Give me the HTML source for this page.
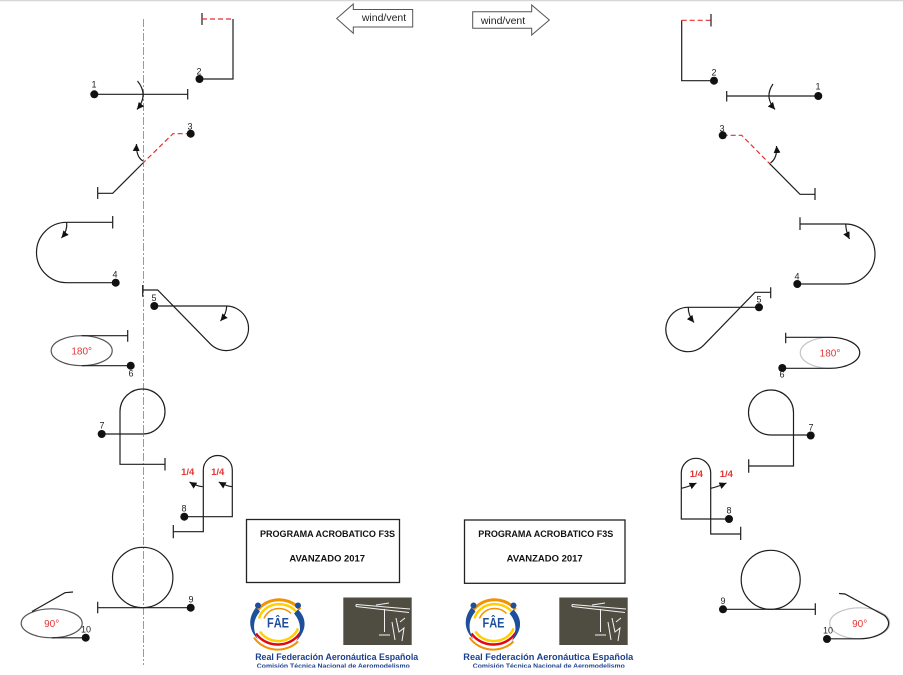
<!DOCTYPE html>
<html><head><meta charset="utf-8"><style>
html,body{margin:0;padding:0;background:#fff;}
svg{display:block;}
text{font-family:"Liberation Sans",Arial,sans-serif;}
</style></head><body>
<svg width="903" height="675" viewBox="0 0 903 675" xmlns="http://www.w3.org/2000/svg">
<defs>
<marker id="ah" viewBox="0 0 10 10" refX="10" refY="5" markerWidth="7" markerHeight="7" orient="auto" markerUnits="userSpaceOnUse"><path d="M0,0 L10,5 L0,10 z" fill="#111"/></marker>
</defs>
<rect x="0" y="0" width="903" height="675" fill="#fff"/>
<line x1="0" y1="0.5" x2="903" y2="0.5" stroke="#d6d6d6" stroke-width="1.5"/>

<!-- center dash-dot line -->
<line x1="143.5" y1="19" x2="143.5" y2="665" stroke="#9a9a9a" stroke-width="1" stroke-dasharray="8 2 2 2"/>

<!-- wind arrows -->
<polygon points="336.7,18.5 353.3,4 353.3,9.5 412.7,9.5 412.7,27 353.3,27 353.3,33.3" fill="#fff" stroke="#555" stroke-width="1"/>
<text x="384" y="21" font-size="10.5" text-anchor="middle" fill="#222">wind/vent</text>
<polygon points="472.7,11.7 531.7,11.7 531.7,5 549.3,20 531.7,35 531.7,28.3 472.7,28.3" fill="#fff" stroke="#555" stroke-width="1"/>
<text x="503" y="24" font-size="10.5" text-anchor="middle" fill="#222">wind/vent</text>

<g fill="none" stroke="#1e1e1e" stroke-width="1.2">
<!-- LEFT SIDE -->
<!-- fig 1 -->
<path d="M94.3,94.3 H187.7 M187.7,89 V99.5"/>
<path d="M137.5,81 Q149,95 137,109.5" marker-end="url(#ah)"/>
<!-- fig 2 -->
<path d="M233,19 V79 H199.5 M202,13 V25"/>
<path d="M202,19 H233" stroke="#e03030" stroke-dasharray="5 3"/>
<!-- fig 3 -->
<path d="M190.7,133.7 H173 L143,163" stroke="#e03030" stroke-dasharray="5 3"/>
<path d="M143,163 L112.7,193.3 H97.7 M97.7,187 V199"/>
<path d="M143,161 Q136,157 136.5,144" marker-end="url(#ah)"/>
<!-- fig 4 -->
<path d="M112.7,216 V228.5 M112.7,222.3 H66.7 A30.2,30.2 0 0 0 66.7,282.7 H115.7"/>
<path d="M66.7,222.5 Q67.5,231 61.5,238" marker-end="url(#ah)"/>
<!-- fig 5 -->
<path d="M142.7,285 V296.7 M142.7,290 H157.7 L210.2,343.8 A22.3,22.3 0 1 0 226,306 H154.3"/>
<path d="M226.7,306 Q226.5,314 220.5,321" marker-end="url(#ah)"/>
<!-- fig 6 -->
<ellipse cx="81.7" cy="350.7" rx="30.5" ry="15" stroke="#555"/>
<path d="M127.7,330 V341.7 M127.7,335.7 H81.7 M81.7,365.7 H130.7"/>
<!-- fig 7 -->
<path d="M101.7,434 H142.5 A22.5,22.5 0 0 0 165,411.5 A22.5,22.5 0 0 0 120,411.5 V464.3 H165 M165,458 V470.5"/>
<!-- fig 8 -->
<path d="M184.3,516.7 H232.3 V470 A14.5,14.5 0 0 0 203.3,470 V531.7 H173.3 M173.3,525 V538.3"/>
<path d="M202.7,486.7 Q196,486 189.5,482" marker-end="url(#ah)"/>
<path d="M232.3,486.7 Q226,486 218.8,482" marker-end="url(#ah)"/>
<!-- fig 9 -->
<circle cx="142.7" cy="577.5" r="30.2"/>
<path d="M97.7,607.7 H190.7 M97.7,601.7 V613.3"/>
<!-- fig 10 -->
<ellipse cx="51.7" cy="623.3" rx="30.5" ry="14.5" stroke="#555"/>
<path d="M73,592 L65,592.7 L32,611.5 M51.7,637.8 H85.7"/>

<!-- RIGHT SIDE -->
<!-- fig 1 -->
<path d="M726.7,96 H818.3 M726.7,91 V101.5"/>
<path d="M773,84 Q764,97 775,109.5" marker-end="url(#ah)"/>
<!-- fig 2 -->
<path d="M681.7,20.3 V80.7 H714 M711,14 V26.5"/>
<path d="M681.7,20.3 H711" stroke="#e03030" stroke-dasharray="5 3"/>
<!-- fig 3 -->
<path d="M722.7,135.3 H741.7 L769.3,163.3" stroke="#e03030" stroke-dasharray="5 3"/>
<path d="M769.3,163.3 L800,194.3 H815 M815,188 V200"/>
<path d="M770.5,163 Q777.5,158 776.5,146" marker-end="url(#ah)"/>
<!-- fig 4 -->
<path d="M800,217.3 V230 M800,224 H845 A30,30 0 0 1 845,284 H797.3"/>
<path d="M845.7,224 Q846,232 849.5,239" marker-end="url(#ah)"/>
<!-- fig 5 -->
<path d="M770.7,287.3 V298.3 M770.7,292.3 H755 L703.7,345.2 A22.2,22.2 0 1 1 688,307.3 H759"/>
<path d="M688.3,307.3 Q688,315 694,322.5" marker-end="url(#ah)"/>
<!-- fig 6 -->
<ellipse cx="830" cy="352.8" rx="29.7" ry="15.5" stroke="#c4c4c4"/>
<path d="M785.7,332.7 V343.3 M785.7,337.3 H830 A29.7,15.5 0 0 1 830,368.3 H782.3"/>
<!-- fig 7 -->
<path d="M810.7,435 H771 A22.5,22.5 0 0 1 748.5,412.5 A22.5,22.5 0 0 1 793.5,412.5 V466 H748.7 M748.7,459.3 V472.7"/>
<!-- fig 8 -->
<path d="M729,519 H681.3 V473 A14.7,14.7 0 0 1 710.7,473 V534 H740.7 M740.7,526.7 V540"/>
<path d="M681.3,488.3 Q688,487 696.5,483" marker-end="url(#ah)"/>
<path d="M710.7,488.3 Q717,487 726.5,483" marker-end="url(#ah)"/>
<!-- fig 9 -->
<circle cx="770.7" cy="579.8" r="29.5"/>
<path d="M723,609.3 H815.3 M815.3,603.3 V615"/>
<!-- fig 10 -->
<ellipse cx="859.7" cy="623.3" rx="30" ry="15.5" stroke="#c4c4c4"/>
<path d="M839,593.5 L845,594 L884.5,615.5 A30,15.5 0 0 1 859.7,638.8 H827"/>
</g>

<!-- dots -->
<g fill="#111">
<circle cx="94.3" cy="94.3" r="4"/>
<circle cx="199.5" cy="79" r="4"/>
<circle cx="190.7" cy="133.7" r="4"/>
<circle cx="115.7" cy="282.7" r="4"/>
<circle cx="154.3" cy="306" r="4"/>
<circle cx="130.7" cy="365.7" r="4"/>
<circle cx="101.7" cy="434" r="4"/>
<circle cx="184.3" cy="516.7" r="4"/>
<circle cx="190.7" cy="607.7" r="4"/>
<circle cx="85.7" cy="637.7" r="4"/>
<circle cx="818.3" cy="96" r="4"/>
<circle cx="714" cy="80.7" r="4"/>
<circle cx="722.7" cy="135.3" r="4"/>
<circle cx="797.3" cy="284" r="4"/>
<circle cx="759" cy="307.3" r="4"/>
<circle cx="782.3" cy="368" r="4"/>
<circle cx="810.7" cy="435.5" r="4"/>
<circle cx="729" cy="519" r="4"/>
<circle cx="723" cy="609.3" r="4"/>
<circle cx="827" cy="639" r="4"/>
</g>

<!-- number labels -->
<g font-size="9" fill="#222" text-anchor="middle">
<text x="94" y="87.5">1</text>
<text x="199" y="74.5">2</text>
<text x="190" y="129.5">3</text>
<text x="115" y="277.5">4</text>
<text x="154" y="301">5</text>
<text x="131" y="376.5">6</text>
<text x="102" y="428.5">7</text>
<text x="184" y="511.5">8</text>
<text x="191" y="602.5">9</text>
<text x="86" y="632.5">10</text>
<text x="818" y="89.5">1</text>
<text x="714" y="75.5">2</text>
<text x="722" y="131.5">3</text>
<text x="797" y="279.5">4</text>
<text x="759" y="302.5">5</text>
<text x="782" y="377.5">6</text>
<text x="811" y="430.5">7</text>
<text x="729" y="513.5">8</text>
<text x="723" y="604">9</text>
<text x="828" y="633.5">10</text>
</g>

<!-- red texts -->
<g fill="#e53535" text-anchor="middle">
<text x="81.7" y="354.5" font-size="10">180°</text>
<text x="830" y="356.5" font-size="10">180°</text>
<text x="51.7" y="627" font-size="10">90°</text>
<text x="859.7" y="627" font-size="10">90°</text>
<g font-weight="bold" font-size="9.5">
<text x="187.7" y="475">1/4</text>
<text x="217.7" y="475">1/4</text>
<text x="696.3" y="477">1/4</text>
<text x="726.3" y="477">1/4</text>
</g>
</g>

<!-- title boxes -->
<rect x="246.5" y="519.5" width="153" height="63" fill="#fff" stroke="#222" stroke-width="1.3"/>
<rect x="464.5" y="520" width="160.5" height="63.3" fill="#fff" stroke="#222" stroke-width="1.3"/>
<g font-weight="bold" font-size="9" fill="#111" text-anchor="middle">
<text x="327.5" y="536.8" textLength="135" lengthAdjust="spacingAndGlyphs">PROGRAMA ACROBATICO F3S</text>
<text x="327.2" y="561.5" textLength="75.7" lengthAdjust="spacingAndGlyphs">AVANZADO 2017</text>
<text x="545.8" y="537" textLength="135" lengthAdjust="spacingAndGlyphs">PROGRAMA ACROBATICO F3S</text>
<text x="544.7" y="561.5" textLength="76" lengthAdjust="spacingAndGlyphs">AVANZADO 2017</text>
</g>

<!-- FAE logos -->
<g id="fae" transform="translate(278,621.5)">
<path d="M-24,-4 A26,24 0 0 1 22,-12" fill="none" stroke="#f39200" stroke-width="3"/>
<path d="M-19,-3 A21,19 0 0 1 18,-10" fill="none" stroke="#ffd000" stroke-width="2.5"/>
<path d="M-14,-3 A16,15 0 0 1 13,-8" fill="none" stroke="#f39200" stroke-width="1.5"/>
<path d="M-22,12 A26,24 0 0 0 24,8" fill="none" stroke="#e30613" stroke-width="2.5"/>
<path d="M-18,10 A21,19 0 0 0 20,7" fill="none" stroke="#ffd000" stroke-width="2.5"/>
<path d="M-24,16 A28,26 0 0 0 20,20" fill="none" stroke="#f39200" stroke-width="2"/>
<path d="M-22,-14 C-30,-4 -30,8 -20,18 C-26,8 -25,-2 -18,-10 Z" fill="#1d4f9c"/>
<circle cx="-20" cy="-16" r="3" fill="#1d4f9c"/>
<path d="M20,-12 C30,-2 28,10 18,20 C24,10 23,0 16,-8 Z" fill="#1d4f9c"/>
<circle cx="20" cy="-16" r="3" fill="#1d4f9c"/>
<text x="0" y="6" font-size="14" font-weight="bold" fill="#1d4f9c" text-anchor="middle" textLength="22" lengthAdjust="spacingAndGlyphs">FÂE</text>
</g>
<use href="#fae" transform="translate(215.5,0)"/>

<!-- photos -->
<g id="photo">
<rect x="343.3" y="597.5" width="68.4" height="47.5" fill="#4f4d42"/>
<g stroke="#f2f2f2" stroke-width="1" fill="none">
<path d="M356,604.5 L410,609 M356,606.5 L409,612.5 M356,604.5 L356,606.5"/>
<path d="M376,605 L389,603"/>
<path d="M384.5,609 V632 M379,635 H390"/>
<path d="M392,622 L395,640 M396,618 L399,632 L404,628 L402,641 M400,622 L405,618"/>
</g>
</g>
<use href="#photo" transform="translate(216,0)"/>

<!-- bottom logo texts -->
<g font-weight="bold" fill="#1b3f8f" text-anchor="middle">
<text x="336.7" y="660.2" font-size="9.5" textLength="163" lengthAdjust="spacingAndGlyphs">Real Federación Aeronáutica Española</text>
<text x="333.3" y="668" font-size="6.5" textLength="153" lengthAdjust="spacingAndGlyphs">Comisión Técnica Nacional de Aeromodelismo</text>
<text x="548.3" y="660.2" font-size="9.5" textLength="170" lengthAdjust="spacingAndGlyphs">Real Federación Aeronáutica Española</text>
<text x="548.8" y="668" font-size="6.5" textLength="152" lengthAdjust="spacingAndGlyphs">Comisión Técnica Nacional de Aeromodelismo</text>
</g>
<rect x="240" y="667.6" width="420" height="8" fill="#fff"/>
</svg>
</body></html>
